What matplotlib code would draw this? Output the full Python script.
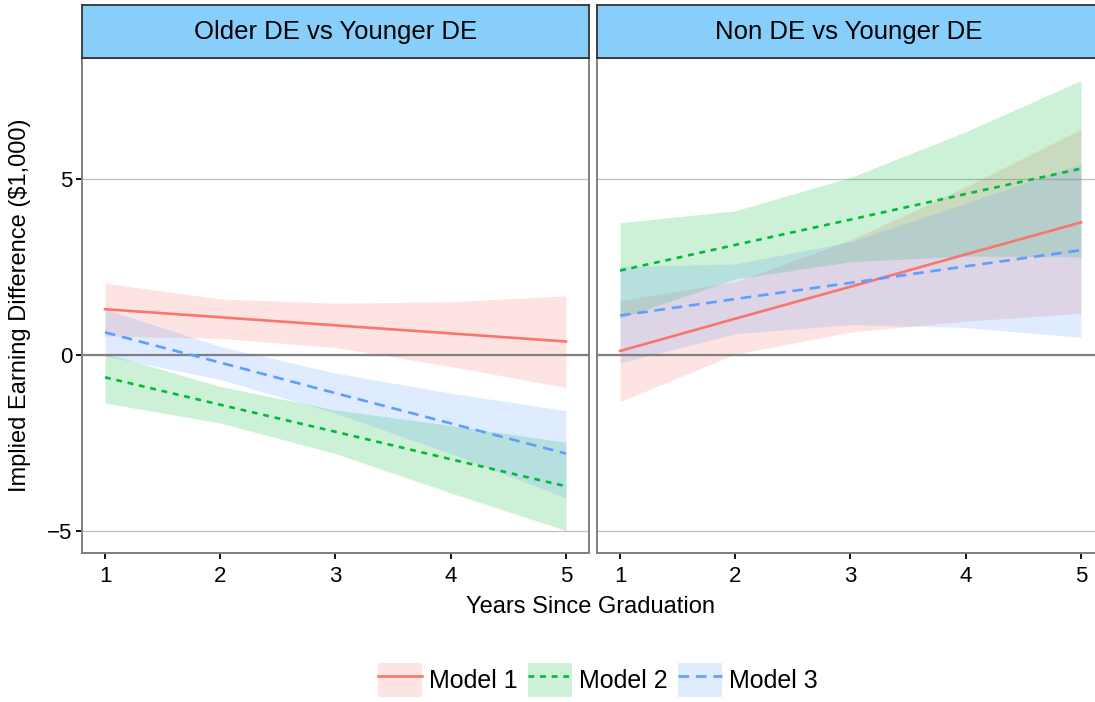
import numpy as np
import matplotlib
matplotlib.use("Agg")
import matplotlib.pyplot as plt
from matplotlib.patches import Patch
from matplotlib.lines import Line2D
from matplotlib.legend_handler import HandlerTuple

plt.rcParams['font.family'] = ['Liberation Sans', 'DejaVu Sans']

years = [1, 2, 3, 4, 5]
panels = ['Older DE vs Younger DE', 'Non DE vs Younger DE']
models = ['Model 1', 'Model 2', 'Model 3']

# Older DE vs Younger DE
older_m1 = [1.30, 1.07, 0.84, 0.61, 0.38]
older_m1_lo = [0.54, 0.47, 0.21, -0.33, -0.93]
older_m1_hi = [2.04, 1.59, 1.47, 1.51, 1.68]
older_m2 = [-0.64, -1.42, -2.19, -2.97, -3.74]
older_m2_lo = [-1.37, -1.94, -2.81, -3.93, -5.00]
older_m2_hi = [0.05, -0.90, -1.57, -2.01, -2.49]
older_m3 = [0.64, -0.22, -1.09, -1.95, -2.81]
older_m3_lo = [-0.03, -0.70, -1.66, -2.81, -4.07]
older_m3_hi = [1.30, 0.24, -0.52, -1.09, -1.59]

# Non DE vs Younger DE
non_m1 = [0.11, 1.03, 1.94, 2.86, 3.77]
non_m1_lo = [-1.33, 0.02, 0.65, 0.96, 1.18]
non_m1_hi = [1.55, 2.08, 3.27, 4.78, 6.42]
non_m2 = [2.40, 3.13, 3.85, 4.58, 5.30]
non_m2_lo = [1.04, 2.16, 2.65, 2.81, 2.79]
non_m2_hi = [3.76, 4.10, 5.05, 6.35, 7.81]
non_m3 = [1.12, 1.59, 2.05, 2.52, 2.98]
non_m3_lo = [-0.23, 0.60, 0.86, 0.78, 0.50]
non_m3_hi = [2.51, 2.59, 3.22, 4.31, 5.44]

panel_data = [
    [(older_m1, older_m1_lo, older_m1_hi),
     (older_m2, older_m2_lo, older_m2_hi),
     (older_m3, older_m3_lo, older_m3_hi)],
    [(non_m1, non_m1_lo, non_m1_hi),
     (non_m2, non_m2_lo, non_m2_hi),
     (non_m3, non_m3_lo, non_m3_hi)],
]

colors = ['#F8766D', '#00BA38', '#619CFF']
styles = ['-', (0, (2.2, 2.2)), (0, (4, 2.6))]
lw = 1.9

W, H = 1095, 702
fig = plt.figure(figsize=(W / 100, H / 100), dpi=100)

ax_y0, ax_y1 = 553, 58
strip_top = 5
# right panel runs a bit past the image edge, as in the original
lefts = [(82, 589), (597, 1104)]

for i, (x0, x1) in enumerate(lefts):
    ax = fig.add_axes([x0 / W, 1 - ax_y0 / H, (x1 - x0) / W, (ax_y0 - ax_y1) / H])
    for j, (mid, lo, hi) in enumerate(panel_data[i]):
        ax.fill_between(years, lo, hi, color=colors[j], alpha=0.2, lw=0)
    ax.axhline(0, color='#808080', lw=1.6, zorder=3)
    for j, (mid, lo, hi) in enumerate(panel_data[i]):
        ax.plot(years, mid, color=colors[j], ls=styles[j], lw=lw, zorder=4)
    ax.set_xlim(0.8, 5.2)
    ax.set_ylim(-5.64, 8.45)
    ax.set_xticks(years)
    ax.set_yticks([-5, 0, 5])
    ax.set_yticklabels(['\u22125', '0', '5'])
    ax.grid(axis='y', color='#BEBEBE', lw=0.9)
    ax.set_axisbelow(True)
    for s in ax.spines.values():
        s.set_color('#7F7F7F')
        s.set_linewidth(1.4)
    ax.tick_params(axis='both', labelsize=16, length=4, width=1.3,
                   color='black', labelcolor='black')
    ax.tick_params(axis='x', pad=5)
    ax.tick_params(axis='y', pad=3)
    if i == 1:
        ax.tick_params(axis='y', left=False, labelleft=False)

    sax = fig.add_axes([x0 / W, 1 - ax_y1 / H, (x1 - x0) / W, (ax_y1 - strip_top) / H])
    sax.set_xticks([])
    sax.set_yticks([])
    sax.set_facecolor('#87CEFA')
    for s in sax.spines.values():
        s.set_color('#333333')
        s.set_linewidth(1.3)
    tx = 0.5 if i == 0 else (849 - x0) / (x1 - x0)
    sax.text(tx, 0.5, panels[i], ha='center', va='center', fontsize=18.5,
             transform=sax.transAxes)

fig.text(590 / W, 1 - 607 / H, 'Years Since Graduation', ha='center', va='center',
         fontsize=17)
fig.text(20 / W, 1 - 305 / H, 'Implied Earning Difference ($1,000)', ha='center',
         va='center', rotation=90, fontsize=17)

handles = []
for j in range(3):
    handles.append((Patch(facecolor=colors[j], alpha=0.2, lw=0),
                    Line2D([], [], color=colors[j], ls=styles[j], lw=lw)))
fig.legend(handles, models, loc='center', bbox_to_anchor=(598 / W, 1 - 680 / H),
           ncol=3, frameon=False, fontsize=18, handlelength=1.75, handleheight=1.7,
           handletextpad=0.3, columnspacing=0.4,
           handler_map={tuple: HandlerTuple(ndivide=1)})

fig.savefig('out.png', dpi=100)
